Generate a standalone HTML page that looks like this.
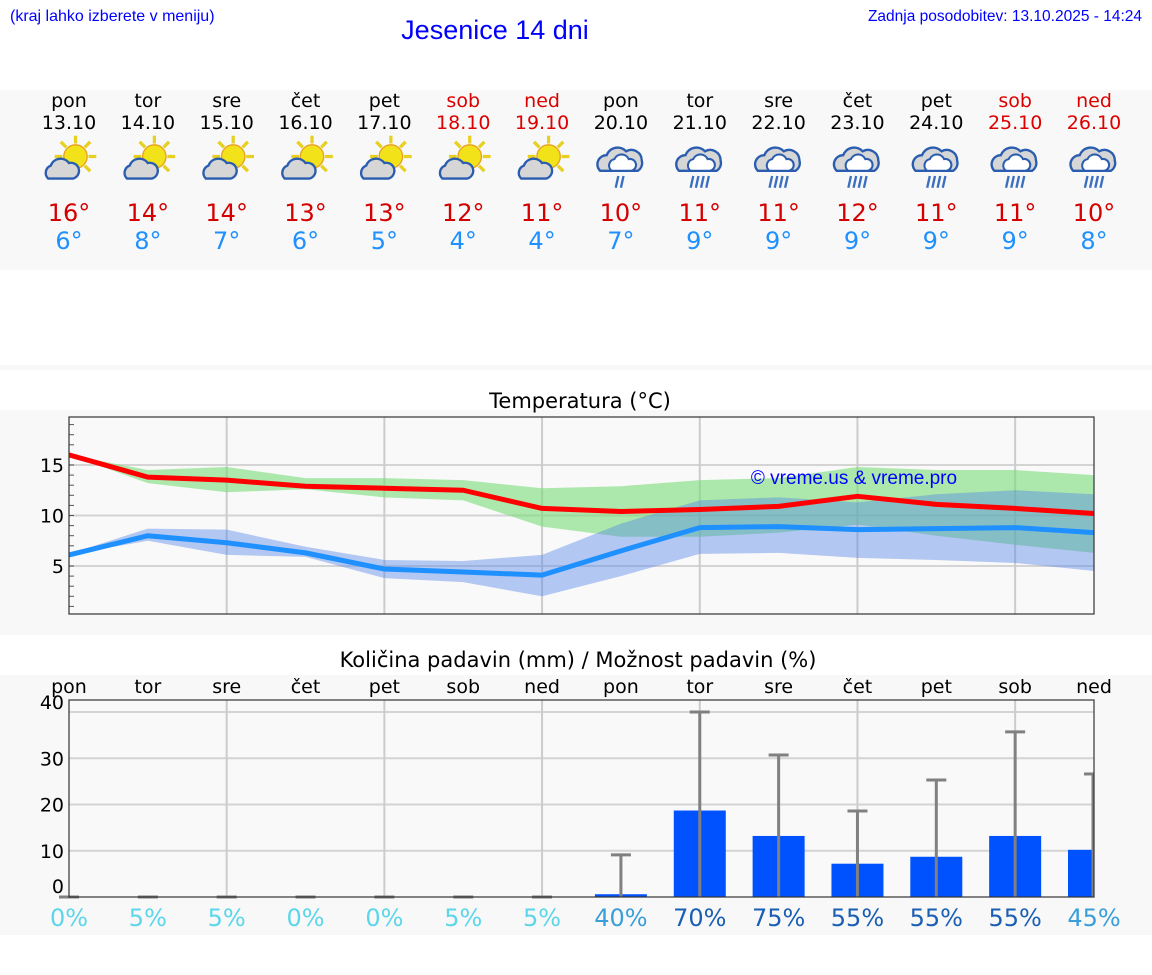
<!DOCTYPE html>
<html><head><meta charset="utf-8"><style>
body{margin:0;background:#fff;width:1152px;height:975px;overflow:hidden;font-family:"DejaVu Sans","Liberation Sans",sans-serif}
svg{display:block}
</style></head><body>
<svg id="page" width="1152" height="975" xmlns="http://www.w3.org/2000/svg">
<text x="10" y="21" font-family="Liberation Sans, sans-serif" font-size="16" fill="#0000ff">(kraj lahko izberete v meniju)</text>
<text x="495" y="39" text-anchor="middle" font-family="Liberation Sans, sans-serif" font-size="27" fill="#0000ff">Jesenice 14 dni</text>
<text x="1142" y="21" text-anchor="end" font-family="Liberation Sans, sans-serif" font-size="15.5" fill="#0000ff">Zadnja posodobitev: 13.10.2025 - 14:24</text>
<rect x="0" y="90" width="1152" height="180" fill="#f8f8f8"/>
<rect x="0" y="365" width="1152" height="5" fill="#f8f8f8"/>
<rect x="0" y="410" width="1152" height="225" fill="#f8f8f8"/>
<rect x="0" y="675" width="1152" height="260" fill="#f8f8f8"/>
<g id="days"></g>
<text x="580" y="408" text-anchor="middle" font-size="21">Temperatura (°C)</text>
<rect x="69" y="417" width="1025" height="197" fill="#f9f9f9"/>
<g id="tchart"></g>
<rect x="69" y="417" width="1025" height="197" fill="none" stroke="#333" stroke-width="1.2"/>
<text x="578" y="667" text-anchor="middle" font-size="21">Količina padavin (mm) / Možnost padavin (%)</text>
<rect x="69" y="700" width="1025" height="197" fill="#f9f9f9"/>
<g id="pchart"></g>
<rect x="69" y="700" width="1025" height="197" fill="none" stroke="#333" stroke-width="1.2"/>
</svg>
<script>
const dayNames=["pon","tor","sre","čet","pet","sob","ned","pon","tor","sre","čet","pet","sob","ned"];
const dates=["13.10","14.10","15.10","16.10","17.10","18.10","19.10","20.10","21.10","22.10","23.10","24.10","25.10","26.10"];
const weekend=[0,0,0,0,0,1,1,0,0,0,0,0,1,1];
const iconType=["ps","ps","ps","ps","ps","ps","ps","r","r","r","r","r","r","r"];
const tMaxDay=[16,14,14,13,13,12,11,10,11,11,12,11,11,10];
const tMinDay=[6,8,7,6,5,4,4,7,9,9,9,9,9,8];
const maxLine=[16,13.8,13.5,12.9,12.7,12.5,10.7,10.4,10.6,10.9,11.9,11.1,10.7,10.2];
const maxHi=[16,14.5,14.8,13.7,13.7,13.5,12.7,12.9,13.5,13.7,14.8,14.5,14.5,14.0];
const maxLo=[16,13.2,12.3,12.6,11.8,11.5,8.9,7.9,7.9,8.3,9.1,8.0,7.1,6.3];
const minLine=[6.1,8.0,7.3,6.3,4.7,4.4,4.1,6.5,8.8,8.9,8.6,8.7,8.8,8.3];
const minHi=[6.2,8.7,8.6,6.9,5.6,5.5,6.1,9.2,11.5,11.8,11.3,12.1,12.5,12.1];
const minLo=[6.1,7.5,6.1,5.9,3.8,3.4,2.0,4.0,6.2,6.3,5.8,5.6,5.3,4.5];
const tTicks=[5,10,15];
const precip=[0,0,0,0,0,0,0,0.6,18.7,13.2,7.2,8.7,13.2,10.2];
const precipMax=[0,0,0,0,0,0,0,9.1,40,30.7,18.6,25.3,35.7,26.6];
const chance=[0,5,5,0,0,5,5,40,70,75,55,55,55,45];
const pTicks=[0,10,20,30,40];
const NS="http://www.w3.org/2000/svg";
function mk(p,tag,a,txt){const e=document.createElementNS(NS,tag);for(const k in a)e.setAttribute(k,a[k]);if(txt!==undefined)e.textContent=txt;p.appendChild(e);return e;}
const X=i=>69+i*(1025/13);
const TY=v=>616.5-v*10.1;
const PY=v=>897-v*4.625;
const dg=document.getElementById('days');
dayNames.forEach((d,i)=>{
 const x=X(i),col=weekend[i]?"#dd0000":"#000";
 let t=mk(dg,'text',{x:x,y:107,'text-anchor':'middle','font-size':19,fill:col},d);
 
 t=mk(dg,'text',{x:x,y:129,'text-anchor':'middle','font-size':19,fill:col},dates[i]);
 
 const g=mk(dg,'g',{transform:`translate(${x},163) scale(1.3)`});
 
 if(iconType[i]=="ps"){
  for(let k=0;k<8;k++){const a=k*Math.PI/4;mk(g,'line',{x1:5+Math.cos(a)*10,y1:-5+Math.sin(a)*10,x2:5+Math.cos(a)*16,y2:-5+Math.sin(a)*16,stroke:'#e8d020','stroke-width':2.5});}
  mk(g,'circle',{cx:5,cy:-5,r:9,fill:'#f2e21a',stroke:'#e8a020','stroke-width':1});
  mk(g,'path',{d:'M-16,12 a6,6 0 0 1 2,-10 a8,8 0 0 1 14,-2 a6,6 0 0 1 3,12 z',fill:'#d6d6d6',stroke:'#2a5db0','stroke-width':1.8});
 } else {
  mk(g,'path',{d:'M-16,6 a7,7 0 0 1 5,-12 a9,9 0 0 1 15,-3 a8,8 0 0 1 12,7 a7,7 0 0 1 -3,8 z',fill:'#d6d6d6',stroke:'#2a5db0','stroke-width':1.8});
  mk(g,'path',{d:'M-7,6 a5,5 0 0 1 2,-9 a6,6 0 0 1 11,0 a4,4 0 0 1 2,9 z',fill:'#fff',stroke:'#2a5db0','stroke-width':1.6});
  const n=i==7?2:4;for(let k=0;k<n;k++){const rx=-6+k*4+(i==7?3:0);mk(g,'line',{x1:rx+1,y1:10,x2:rx-1,y2:19,stroke:'#3a6fc0','stroke-width':1.8});}
 }
 t=mk(dg,'text',{x:x,y:221,'text-anchor':'middle','font-size':24,fill:'#d40000'},tMaxDay[i]+"°");
 
 t=mk(dg,'text',{x:x,y:249,'text-anchor':'middle','font-size':24,fill:'#1e90ff'},tMinDay[i]+"°");
 
});
const tc=document.getElementById('tchart');
tTicks.forEach(v=>{let l=mk(tc,'line',{x1:69,x2:1094,y1:TY(v),y2:TY(v),stroke:'#d4d4d4','stroke-width':2});
 
 let t=mk(tc,'text',{x:64,y:TY(v)+7,'text-anchor':'end','font-size':19},String(v));
 });
for(let v=1;v<=19;v++){mk(tc,'line',{x1:69,x2:74,y1:TY(v),y2:TY(v),stroke:'#555','stroke-width':1});}
for(let i=2;i<13;i+=2){let l=mk(tc,'line',{x1:X(i),x2:X(i),y1:417,y2:614,stroke:'#ccc','stroke-width':2});
 }
function band(hi,lo,fill,name){let d='M'+hi.map((v,i)=>X(i)+','+TY(v)).join('L')+'L'+lo.map((v,i)=>X(i)+','+TY(v)).reverse().join('L')+'Z';
 let p=mk(tc,'path',{d:d,fill:fill});}
band(maxHi,maxLo,'rgba(120,220,120,0.6)','max-temp-range');
band(minHi,minLo,'rgba(80,130,230,0.42)','min-temp-range');
function line(arr,col,name){let p=mk(tc,'polyline',{points:arr.map((v,i)=>X(i)+','+TY(v)).join(' '),fill:'none',stroke:col,'stroke-width':5,'stroke-linejoin':'round'});
 }
line(minLine,'#1e90ff','min-temp-line');
line(maxLine,'#ff0000','max-temp-line');
let wm=mk(tc,'text',{x:854,y:484,'text-anchor':'middle','font-size':19,fill:'#0000ff','font-family':'Liberation Sans, sans-serif'},'© vreme.us & vreme.pro');

const pc=document.getElementById('pchart');
pTicks.forEach(v=>{if(v>0){let l=mk(pc,'line',{x1:69,x2:1094,y1:PY(v),y2:PY(v),stroke:'#d4d4d4','stroke-width':2});
 }
 let t=mk(pc,'text',{x:64,y:(v==40?709:(v==0?893:PY(v)+7)),'text-anchor':'end','font-size':19},String(v));
 });
for(let i=2;i<13;i+=2){let l=mk(pc,'line',{x1:X(i),x2:X(i),y1:700,y2:897,stroke:'#ccc','stroke-width':2});
 }
dayNames.forEach((d,i)=>{
 const x=X(i);
 let t=mk(pc,'text',{x:x,y:693,'text-anchor':'middle','font-size':19},d);
 
 const h=897-PY(precip[i]);
 let r=mk(pc,'rect',{x:x-26,y:PY(precip[i]),width:Math.min(52,1094-(x-26)),height:h,fill:'#0052ff'});
 
 let e=mk(pc,'line',{x1:Math.min(x,1093),x2:Math.min(x,1093),y1:897,y2:PY(precipMax[i]),stroke:'#808080','stroke-width':3});
 
 mk(pc,'line',{x1:x-10,x2:Math.min(x+10,1094),y1:PY(precipMax[i]),y2:PY(precipMax[i]),stroke:'#808080','stroke-width':3});
 const c=chance[i]>=50?'#1a5fb4':(chance[i]>=30?'#3a9ed8':'#5cd6ea');
 t=mk(pc,'text',{x:x,y:926,'text-anchor':'middle','font-size':24,fill:c},chance[i]+'%');
 
});
</script>
</body></html>
